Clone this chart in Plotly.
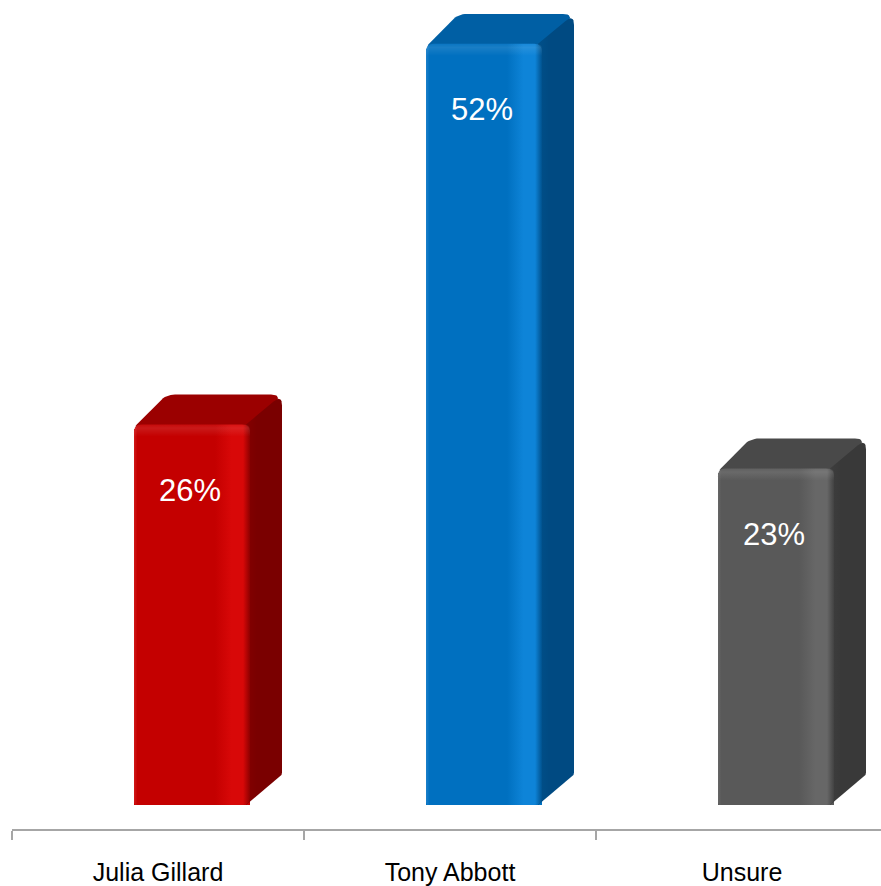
import plotly.graph_objects as go

# Preferred leader poll results
candidates = ["Julia Gillard", "Tony Abbott", "Unsure"]
support = [26, 52, 23]

# Colour scheme per bar: front face, lit edge, highlight band, top face, side face
front_colors = ["#C40000", "#0070C0", "#595959"]
edge_colors = ["#D01A1A", "#1C80CA", "#666666"]
shine_colors = ["#D80808", "#0E84D8", "#676767"]
shade_colors = ["#8E0000", "#00528E", "#424242"]
top_colors = ["#9B0000", "#005FA4", "#494949"]
side_colors = ["#7A0000", "#004A82", "#393939"]
side_edge_colors = ["#840000", "#00508A", "#3E3E3E"]

FONT = "Liberation Sans, Arial, Helvetica, sans-serif"

# Figure / scale geometry
W, H = 881, 886
M_L, M_R, M_T, M_B = 12, 0, 0, 54
PX_PER_CAT = 292.0          # pixels per category slot
PX_PER_PCT = 14.692         # pixels per percentage point
BASE_GAP_PX = 24            # gap between bar bottoms and the axis line

X_RANGE = [-0.5, -0.5 + (W - M_L - M_R) / PX_PER_CAT]
Y_MIN = -BASE_GAP_PX / PX_PER_PCT
Y_RANGE = [Y_MIN, Y_MIN + (H - M_T - M_B) / PX_PER_PCT]

# Bar body geometry (in axis units)
BAR_OFFSET = -24 / PX_PER_CAT
BAR_WIDTH = 116 / PX_PER_CAT
DEPTH_X = 32 / PX_PER_CAT
DEPTH_Y = 30 / PX_PER_PCT


def px_x(p):
    return p / PX_PER_CAT


def px_y(p):
    return p / PX_PER_PCT


def round_polygon(pts, radii, steps=8):
    """Round the corners of a polygon given in axis units; radii in pixels."""
    P = [(x * PX_PER_CAT, y * PX_PER_PCT) for x, y in pts]
    n = len(P)
    out = []
    for i in range(n):
        vx, vy = P[i]
        r = radii[i]
        if r <= 0:
            out.append((vx, vy))
            continue
        px, py = P[i - 1]
        nx, ny = P[(i + 1) % n]
        d_in = ((vx - px) ** 2 + (vy - py) ** 2) ** 0.5
        d_out = ((nx - vx) ** 2 + (ny - vy) ** 2) ** 0.5
        rr = min(r, d_in / 2, d_out / 2)
        ax, ay = vx + (px - vx) * rr / d_in, vy + (py - vy) * rr / d_in
        bx, by = vx + (nx - vx) * rr / d_out, vy + (ny - vy) * rr / d_out
        for k in range(steps + 1):
            t = k / steps
            qx = (1 - t) ** 2 * ax + 2 * (1 - t) * t * vx + t ** 2 * bx
            qy = (1 - t) ** 2 * ay + 2 * (1 - t) * t * vy + t ** 2 * by
            out.append((qx, qy))
    xs = [p[0] / PX_PER_CAT for p in out]
    ys = [p[1] / PX_PER_PCT for p in out]
    return xs + [xs[0]], ys + [ys[0]]


fig = go.Figure()

# Front faces as a bar trace on the labelled axis
fig.add_trace(go.Bar(
    x=list(range(len(candidates))),
    y=support,
    width=BAR_WIDTH,
    offset=BAR_OFFSET,
    marker=dict(color=front_colors, line=dict(width=0), cornerradius=8),
    hoverinfo="skip",
    showlegend=False,
    xaxis="x", yaxis="y",
))

for i, v in enumerate(support):
    xl = i + BAR_OFFSET
    xr = xl + BAR_WIDTH

    # Top face, reaching a little below the front's top edge so the rounded
    # front corners sit against it
    tx, ty = round_polygon(
        [(xl, v - px_y(3)), (xl + DEPTH_X, v + DEPTH_Y), (xr + DEPTH_X, v + DEPTH_Y),
         (xr, v - px_y(14)), (xl + px_x(10), v - px_y(14))],
        [4, 9, 11, 0, 0])
    fig.add_trace(go.Scatter(
        x=tx, y=ty, mode="lines", fill="toself", line=dict(width=0),
        fillcolor=top_colors[i],
        hoverinfo="skip", showlegend=False, xaxis="x2", yaxis="y"))

    # Side face
    sx, sy = round_polygon(
        [(xr - px_x(4), 0), (xr + DEPTH_X, DEPTH_Y), (xr + DEPTH_X, v + DEPTH_Y),
         (xr - px_x(4), v)],
        [0, 3, 11, 0])
    fig.add_trace(go.Scatter(
        x=sx, y=sy, mode="lines", fill="toself", line=dict(width=0),
        fillgradient=dict(type="horizontal", colorscale=[
            [0, side_edge_colors[i]], [0.3, side_colors[i]], [1, side_colors[i]]]),
        hoverinfo="skip", showlegend=False, xaxis="x2", yaxis="y"))

    # Front face shading: lit left edge, broad highlight band near the right edge
    fx, fy = round_polygon(
        [(xl, 0), (xr, 0), (xr, v), (xl, v)], [3, 8, 8, 8])
    fig.add_trace(go.Scatter(
        x=fx, y=fy, mode="lines", fill="toself", line=dict(width=0),
        fillgradient=dict(type="horizontal", colorscale=[
            [0, edge_colors[i]], [0.03, front_colors[i]], [0.7, front_colors[i]],
            [0.84, shine_colors[i]], [0.94, shine_colors[i]], [1, shade_colors[i]]]),
        hoverinfo="skip", showlegend=False, xaxis="x2", yaxis="y"))

    # Soft bevel along the top edge of the front face
    bevel = px_y(12)
    bx, by = round_polygon(
        [(xl, v - bevel), (xr, v - bevel), (xr, v), (xl, v)], [0, 0, 8, 8])
    fig.add_trace(go.Scatter(
        x=bx, y=by, mode="lines", fill="toself", line=dict(width=0),
        fillgradient=dict(type="vertical", colorscale=[
            [0, "rgba(255,255,255,0)"], [0.7, "rgba(255,255,255,0.10)"],
            [1, "rgba(255,255,255,0.04)"]]),
        hoverinfo="skip", showlegend=False, xaxis="x2", yaxis="y"))

# Value labels inside each bar, near the top
for i, v in enumerate(support):
    fig.add_annotation(
        x=i + BAR_OFFSET + BAR_WIDTH / 2 - px_x(2), y=v,
        xref="x", yref="y", yshift=-66,
        text=f"{v}%", showarrow=False,
        font=dict(family=FONT, size=31, color="white"))

fig.update_layout(
    width=W, height=H,
    margin=dict(l=M_L, r=M_R, t=M_T, b=M_B, pad=0),
    paper_bgcolor="white", plot_bgcolor="white",
    showlegend=False,
    bargap=0,
    # Category labels centred in each slot
    xaxis=dict(
        type="linear", range=X_RANGE,
        tickvals=list(range(len(candidates))), ticktext=candidates,
        ticks="", showline=False, showgrid=False, zeroline=False,
        tickfont=dict(family=FONT, size=25, color="black"),
        ticklabelstandoff=26,
        fixedrange=True,
    ),
    # Axis line with tick marks on the slot boundaries
    xaxis2=dict(
        type="linear", range=X_RANGE, overlaying="x", anchor="y", side="bottom",
        tickvals=[k - 0.5 for k in range(len(candidates) + 1)],
        ticktext=[""] * (len(candidates) + 1),
        ticks="outside", ticklen=9, tickwidth=2, tickcolor="#A6A6A6",
        showline=True, linecolor="#A6A6A6", linewidth=2,
        showgrid=False, zeroline=False, fixedrange=True,
    ),
    yaxis=dict(range=Y_RANGE, visible=False, showgrid=False,
               zeroline=False, fixedrange=True),
)

fig.write_html("out.html")
